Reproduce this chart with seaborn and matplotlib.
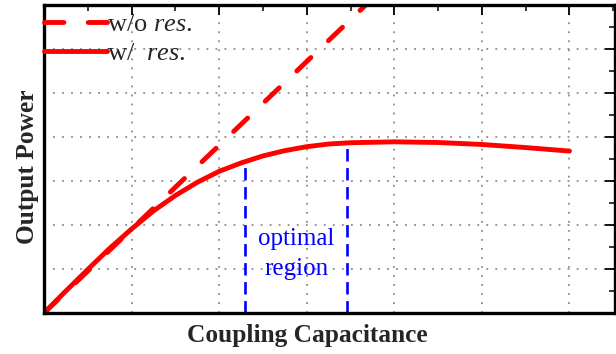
import numpy as np
import pandas as pd
import seaborn as sns
import matplotlib
matplotlib.use("Agg")
import matplotlib.pyplot as plt
from matplotlib.ticker import MultipleLocator

# ---- data ----
cap_res = [0, 0.25, 0.5, 0.75, 1.0, 1.25, 1.5, 1.75, 2.0, 2.25, 2.5, 2.75,
           3.0, 3.25, 3.5, 3.75, 4.0, 4.5, 5.0, 5.5, 6.0]
power_res = [0, 0.50, 0.99, 1.47, 1.91, 2.32, 2.67, 2.97, 3.22, 3.41, 3.57, 3.69,
             3.78, 3.84, 3.87, 3.88, 3.89, 3.875, 3.83, 3.76, 3.68]
cap_nores = [0, 3.7]
power_nores = [0, 7.05]
optimal_bounds = [2.30, 3.46]
labels = ["w/o $\\mathit{res.}$", "w/  $\\mathit{res.}$"]
region_text = "optimal\nregion"
xlabel = "Coupling Capacitance"
ylabel = "Output Power"

sns.set_theme(style="white")
plt.rcParams["font.family"] = ["Liberation Serif", "DejaVu Serif"]
plt.rcParams["mathtext.fontset"] = "custom"
plt.rcParams["mathtext.rm"] = "Liberation Serif"
plt.rcParams["mathtext.it"] = "Liberation Serif:italic"

fig = plt.figure(figsize=(6.16, 3.54), dpi=100)
ax = fig.add_axes([44/616, 41/354, 571/616, 308/354])

df_no = pd.DataFrame({"x": cap_nores, "y": power_nores})
df_re = pd.DataFrame({"x": cap_res, "y": power_res})

red = "#ff0000"
sns.lineplot(data=df_no, x="x", y="y", ax=ax, color=red, lw=3.5,
             label=labels[0], sort=False)
sns.lineplot(data=df_re, x="x", y="y", ax=ax, color=red, lw=3.5,
             label=labels[1], sort=False)
l0, l1 = ax.get_lines()[0], ax.get_lines()[1]
l0.set_linestyle((0, (4, 5)))
l0.set_dash_capstyle("round")
l1.set_solid_capstyle("round")
l1.set_solid_joinstyle("round")

# optimal region markers
tops = np.interp(optimal_bounds, cap_res, power_res) - 0.03
ax.vlines(optimal_bounds, 0, tops, colors="#0000ff", lw=1.9,
          linestyles=(0, (4.7, 2.5)))
ax.text(np.mean(optimal_bounds), 1.34, region_text, color="#0000ff",
        fontsize=18, ha="center", va="center", linespacing=1.45)

ax.set_xlim(0, 6.52)
ax.set_ylim(0, 7)
ax.xaxis.set_major_locator(MultipleLocator(1))
ax.xaxis.set_minor_locator(MultipleLocator(0.5))
ax.yaxis.set_major_locator(MultipleLocator(1))
ax.yaxis.set_minor_locator(MultipleLocator(0.5))
ax.tick_params(which="both", direction="in", top=True, right=True,
               labelbottom=False, labelleft=False, color="black")
ax.tick_params(which="major", length=7, width=1.3)
ax.tick_params(which="minor", length=4, width=1.1)
ax.grid(True, which="major", color="#8c8c8c", lw=1.3, linestyle=(0, (1, 4)))
for s in ax.spines.values():
    s.set_visible(True)
    s.set_color("black")
    s.set_linewidth(2.4)

ax.set_xlabel(xlabel, fontsize=18.3, fontweight="bold")
ax.set_ylabel(ylabel, fontsize=18.3, fontweight="bold")
ax.xaxis.set_label_coords(0.4615, -0.035)
ax.yaxis.set_label_coords(-0.008, 0.474)

leg = ax.legend(loc="upper left", bbox_to_anchor=(0, 0.974), borderaxespad=0,
                borderpad=0.0, frameon=False, fontsize=19, handlelength=2.39,
                handletextpad=0.0, labelspacing=0.21)

fig.savefig("out.png", dpi=100, facecolor="white")
